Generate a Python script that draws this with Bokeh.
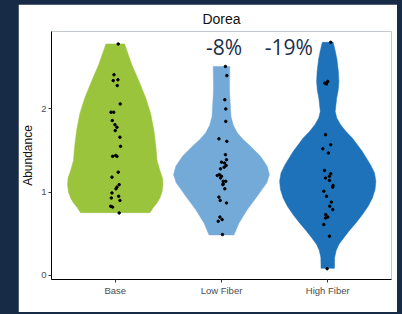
import numpy as np
from bokeh.plotting import figure
from bokeh.models import Range1d, FixedTicker
from bokeh.core.properties import value
from bokeh.embed import file_html
from bokeh.resources import INLINE

# ---- data ----
categories = ["Base", "Low Fiber", "High Fiber"]
colors = ["#99c43c", "#74aad8", "#1e72b9"]

base_y = [2.78, 2.41, 2.34, 2.35, 2.28, 2.06, 1.96, 1.96, 1.86, 1.81, 1.78, 1.74,
          1.66, 1.55, 1.43, 1.44, 1.43, 1.24, 1.18, 1.09, 1.06, 1.04, 0.99, 0.95,
          0.93, 0.90, 0.83, 0.82, 0.75]
base_jit = [0.028, -0.012, -0.019, 0.025, 0.019, 0.047, -0.04, -0.015, -0.028, -0.003,
            0.016, 0.0, 0.044, 0.05, -0.025, 0.004, 0.016, 0.028, -0.031, 0.037, 0.016,
            0.007, -0.031, 0.032, -0.037, 0.044, -0.043, -0.025, 0.037]

low_y = [2.51, 2.40, 2.11, 2.00, 1.85, 1.64, 1.61, 1.45, 1.39, 1.36, 1.35, 1.32, 1.30,
         1.28, 1.21, 1.20, 1.19, 1.17, 1.13, 1.13, 1.10, 1.09, 1.04, 0.94, 0.90, 0.87,
         0.70, 0.67, 0.65, 0.49]
low_jit = [0.037, 0.05, 0.031, 0.04, 0.04, -0.024, 0.05, 0.037, 0.047, 0.0, 0.028, 0.044,
           0.025, -0.009, -0.019, -0.04, 0.0, -0.009, 0.016, 0.04, 0.016, 0.013, 0.031,
           -0.024, -0.012, 0.047, -0.015, 0.006, -0.031, 0.009]

high_y = [2.80, 2.31, 2.30, 2.33, 1.69, 1.57, 1.52, 1.47, 1.26, 1.22, 1.19, 1.17, 1.14,
          1.08, 1.06, 1.01, 0.95, 0.88, 0.83, 0.79, 0.73, 0.70, 0.69, 0.61, 0.47, 0.08]
high_jit = [0.028, -0.028, -0.012, 0.0, -0.021, 0.028, -0.047, 0.006, -0.031, 0.028, 0.016,
            -0.021, 0.016, 0.05, 0.047, -0.037, -0.012, 0.034, 0.019, 0.047, -0.019, 0.0,
            -0.021, -0.037, 0.016, -0.006]

# violin outlines: abundance level and half-width (in category units)
base_lvl = [2.78, 2.53, 2.33, 2.13, 1.94, 1.74, 1.54, 1.38, 1.26, 1.17, 1.09, 1.00, 0.93,
            0.87, 0.81, 0.753]
base_half = [0.088, 0.156, 0.224, 0.287, 0.334, 0.364, 0.383, 0.393, 0.420, 0.444, 0.449,
             0.440, 0.420, 0.393, 0.355, 0.327]

low_lvl = [2.51, 2.23, 1.91, 1.80, 1.71, 1.63, 1.55, 1.43, 1.31, 1.21, 1.11, 1.03, 0.95,
           0.79, 0.63, 0.486]
low_half = [0.078, 0.075, 0.089, 0.112, 0.150, 0.206, 0.274, 0.367, 0.430, 0.451, 0.425,
            0.380, 0.336, 0.243, 0.165, 0.117]

high_lvl = [2.80, 2.70, 2.60, 2.45, 2.33, 2.22, 2.13, 1.97, 1.89, 1.81, 1.73, 1.65, 1.49,
            1.33, 1.23, 1.13, 1.03, 0.93, 0.83, 0.73, 0.63, 0.53, 0.45, 0.375, 0.30, 0.215,
            0.084]
high_half = [0.051, 0.070, 0.086, 0.100, 0.105, 0.098, 0.084, 0.070, 0.085, 0.121, 0.170,
             0.231, 0.324, 0.402, 0.440, 0.453, 0.445, 0.420, 0.380, 0.327, 0.265, 0.199,
             0.150, 0.106, 0.080, 0.065, 0.063]

change_labels = ["-8%", "-19%"]
y_ticks = [0, 1, 2]

groups = [base_y, low_y, high_y]
jitters = [base_jit, low_jit, high_jit]
levels = [base_lvl, low_lvl, high_lvl]
halves = [base_half, low_half, high_half]

NAVY = "#172b47"

p = figure(width=379, height=308, x_range=Range1d(0.4, 3.6), y_range=Range1d(-0.05, 2.93),
           output_backend="svg", toolbar_location=None,
           min_border_left=31, min_border_right=6, min_border_top=25, min_border_bottom=33)
p.margin = (4, 5, 2, 18)
p.background_fill_color = "white"
p.border_fill_color = "white"
p.outline_line_color = None
p.grid.visible = False

for i, (ys, jit, col, lv, hw) in enumerate(zip(groups, jitters, colors, levels, halves)):
    cx = i + 1
    lv = np.asarray(lv, float)
    hw = np.asarray(hw, float)
    xs = np.concatenate([cx - hw, (cx + hw)[::-1]])
    yy = np.concatenate([lv, lv[::-1]])
    p.patch(xs, yy, fill_color=col, line_color=col, line_width=0.5)
    p.scatter([cx + j for j in jit], ys, size=2.5, color="black")

# annotations
ann_x = [2 + 0.025, 3 - 0.367]
ann_y = [2.74, 2.74]
p.text(x=ann_x, y=ann_y, text=change_labels, text_align="center", text_baseline="middle",
       text_font=value("Open Sans"), text_font_size="21px", text_color="#1c2e4a")

# title
p.title.text = "Dorea"
p.title.align = "center"
p.title.text_font = "Liberation Sans"
p.title.text_font_size = "14px"
p.title.text_font_style = "normal"
p.title.text_color = "#111111"
p.title.standoff = 9

# axes
for ax in (p.xaxis[0], p.yaxis[0]):
    ax.axis_line_color = "black"
    ax.axis_line_width = 1
    ax.major_tick_line_color = "#333333"
    ax.major_tick_out = 3
    ax.major_tick_in = 0
    ax.minor_tick_line_color = None
    ax.major_label_text_color = "#4d4d4d"
    ax.major_label_text_font = "Liberation Sans"
    ax.major_label_text_font_size = "9.5px"
    ax.major_label_standoff = 2

p.xaxis.ticker = FixedTicker(ticks=[1, 2, 3])
p.xaxis.major_label_overrides = {i + 1: c for i, c in enumerate(categories)}
p.yaxis.ticker = FixedTicker(ticks=y_ticks)
p.yaxis.axis_label = "Abundance"
p.yaxis.axis_label_text_font = "Liberation Sans"
p.yaxis.axis_label_text_font_size = "12px"
p.yaxis.axis_label_text_font_style = "normal"
p.yaxis.axis_label_text_color = "#111111"
p.yaxis.axis_label_standoff = 3

html = file_html(p, INLINE)
html = html.replace("</head>",
                    "<style>html, body {margin:0 !important; padding:0 !important; background:%s !important;}</style></head>" % NAVY, 1)
open("out.html", "w").write(html)
